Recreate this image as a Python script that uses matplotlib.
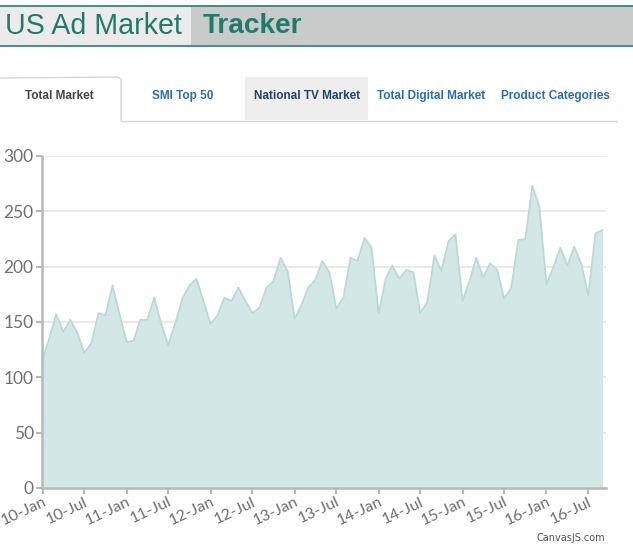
import numpy as np
import pandas as pd
import matplotlib
matplotlib.use("Agg")
import matplotlib.pyplot as plt
import matplotlib.dates as mdates
from matplotlib.patches import Rectangle

# Monthly ad spend index, Jan 2010 - Sep 2016
months = pd.date_range("2010-01-01", "2016-09-01", freq="MS")
values = [
    116, 137, 157, 141, 152, 140, 122, 131, 158, 156, 183, 157,
    132, 133, 152, 152, 172, 148, 129, 149, 171, 183, 189, 169,
    148, 156, 172, 169, 181, 169, 158, 163, 181, 187, 208, 196,
    153, 166, 181, 188, 205, 195, 162, 172, 208, 205, 226, 217,
    158, 189, 201, 189, 197, 195, 158, 168, 210, 196, 223, 229,
    169, 187, 208, 190, 203, 197, 171, 181, 224, 225, 273, 254,
    184, 200, 217, 201, 218, 202, 174, 230, 233,
]
y_ticks = [0, 50, 100, 150, 200, 250, 300]

tabs = ["Total Market", "SMI Top 50", "National TV Market",
        "Total Digital Market", "Product Categories"]
tab_x = [59, 183, 307, 431, 555]
tab_colors = ["#444444", "#2b6cb0", "#23446a", "#2b6cb0", "#2b6cb0"]

W, H = 633, 553
fig = plt.figure(figsize=(W / 100, H / 100), dpi=100)
fig.patch.set_facecolor("white")

# header band
hdr = fig.add_axes([0, 0, 1, 1], zorder=0)
hdr.set_xlim(0, W)
hdr.set_ylim(H, 0)
hdr.axis("off")
hdr.add_patch(Rectangle((0, 6), 191, 39, color="#ebebeb", lw=0))
hdr.add_patch(Rectangle((191, 6), W - 191, 39, color="#c9cbca", lw=0))
hdr.plot([0, W], [5.5, 5.5], color="#2a7a6e", lw=1.2)
hdr.plot([0, W], [45.5, 45.5], color="#2a7a6e", lw=1.2)
hdr.text(5, 26, "US Ad Market", fontsize=20.6, color="#237a6c",
         family="Liberation Sans", va="center", ha="left")
hdr.text(203, 26, "Tracker", fontsize=20.1, color="#237a6c",
         family="Liberation Sans", weight="bold", va="center", ha="left")

# tabs
hdr.add_patch(Rectangle((245, 77), 123, 43, color="#eeeeee", lw=0))
hdr.plot([0, 118, 121, 121], [78, 77, 79, 120], color="#d6d6d6", lw=1)
hdr.plot([121, 617], [120.5, 120.5], color="#d6d6d6", lw=1)
for label, x, c in zip(tabs, tab_x, tab_colors):
    hdr.text(x, 96, label, fontsize=8.5, color=c, weight="bold",
             family="Liberation Sans", ha="center", va="center")

hdr.text(605, 538, "CanvasJS.com", fontsize=7, color="#555555",
         family="DejaVu Sans", ha="right", va="center")

# chart area
x0, x1, yb, yt = 42, 606, 488, 156
ax = fig.add_axes([x0 / W, (H - yb) / H, (x1 - x0) / W, (yb - yt) / H], zorder=1)
ax.patch.set_alpha(0)

ax.fill_between(months, values, 0, color="#d3e8e6", lw=0, zorder=2)
ax.plot(months, values, color="#bad9d5", lw=1.3, zorder=3)

ax.set_ylim(0, 300)
ax.set_yticks(y_ticks)
ax.set_xlim(months[0] - pd.Timedelta(days=3), months[-1] + pd.Timedelta(days=15))
ax.xaxis.set_major_locator(mdates.MonthLocator(bymonth=[1, 7]))
ax.xaxis.set_major_formatter(mdates.DateFormatter("%y-%b"))

ax.grid(axis="y", color="#e6e6e6", lw=1.2, zorder=1)
ax.set_axisbelow(True)
for s in ["top", "right"]:
    ax.spines[s].set_visible(False)
for s in ["left", "bottom"]:
    ax.spines[s].set_color("#b8b8b8")
    ax.spines[s].set_linewidth(1.8)
    ax.spines[s].set_zorder(4)

ax.tick_params(axis="y", length=4, width=1.5, color="#b8b8b8",
               labelsize=12.5, labelcolor="#707070", pad=2)
ax.tick_params(axis="x", length=4, width=1.5, color="#b8b8b8",
               labelsize=11.5, labelcolor="#707070", pad=1)
for lab in ax.get_yticklabels():
    lab.set_family("Lato")
for lab in ax.get_xticklabels():
    lab.set_family("Lato")
    lab.set_rotation(25)
    lab.set_ha("right")
    lab.set_rotation_mode("anchor")

fig.savefig("out.png", dpi=100)
